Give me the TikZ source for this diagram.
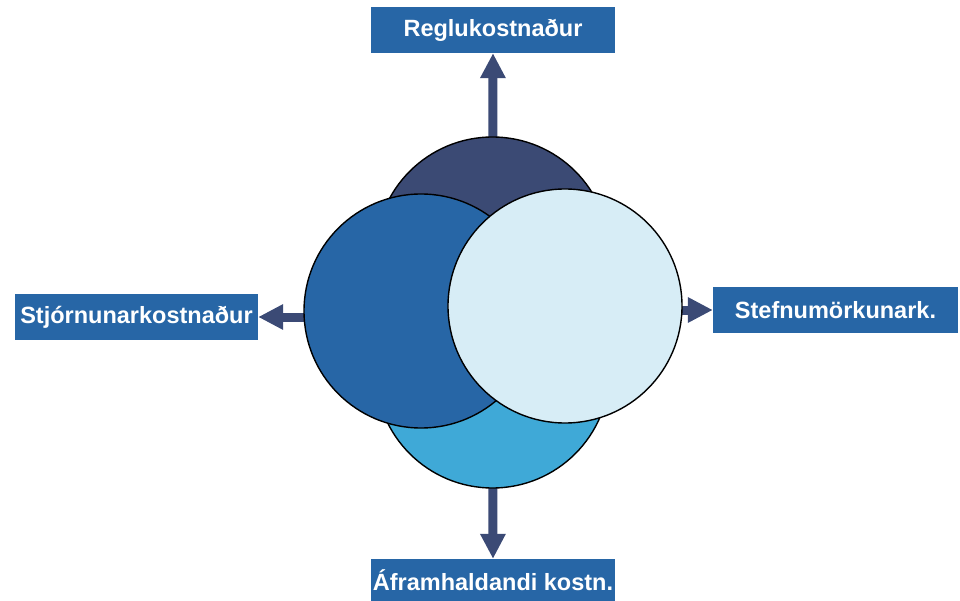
\documentclass[tikz,border=0pt]{standalone}
\usepackage{fontspec}
\setmainfont{Liberation Sans}
\usetikzlibrary{arrows.meta}
\definecolor{boxblue}{HTML}{2766A6}
\definecolor{arrowblue}{HTML}{3B4A75}
\definecolor{topcol}{HTML}{3B4A74}
\definecolor{leftcol}{HTML}{2766A6}
\definecolor{botcol}{HTML}{3FA9D7}
\definecolor{rightcol}{HTML}{D7EDF6}
\tikzset{
  labelbox/.style={fill=boxblue, text=white, inner sep=0pt, minimum height=46pt,
    font=\fontsize{23.5}{28}\selectfont\bfseries},
  bubble/.style={circle, draw=black, line width=1.4pt, minimum size=234pt, inner sep=0pt},
  bigarrow/.style={draw=arrowblue, line width=9pt, -{Triangle[width=24pt,length=25pt]}, arrowblue},
}
\begin{document}
\begin{tikzpicture}[x=1pt,y=-1pt]
\useasboundingbox (0,0) rectangle (960,601);
% label boxes
\node[labelbox, minimum width=244pt] (tbox) at (493,30) {Reglukostnaður};
\node[labelbox, minimum width=243pt] (lbox) at (136.5,317) {Stjórnunarkostnaður};
\node[labelbox, minimum width=245pt] (rbox) at (835.5,310) {Stefnumörkunark.};
\node[labelbox, minimum width=244pt, minimum height=42pt] (bbox) at (493,580) {Áframhaldandi kostn.};
% centre coordinates
\coordinate (tc) at (492.5,254);
\coordinate (bc) at (492.5,371);
\coordinate (lc) at (421,311);
\coordinate (rc) at (565,306);
% arrows (drawn first, circles cover their starts)
\draw[bigarrow] (tc) -- (tbox.south);
\draw[bigarrow] (bc) -- (bbox.north);
\draw[bigarrow] (lc |- lbox.east) -- (lbox.east);
\draw[bigarrow] (rc |- rbox.west) -- (rbox.west);
% circles
\node[bubble, fill=topcol] (top) at (tc) {};
\node[bubble, fill=botcol] (bottom) at (bc) {};
\node[bubble, fill=leftcol] (left) at (lc) {};
\node[bubble, fill=rightcol] (right) at (rc) {};
\end{tikzpicture}
\end{document}
